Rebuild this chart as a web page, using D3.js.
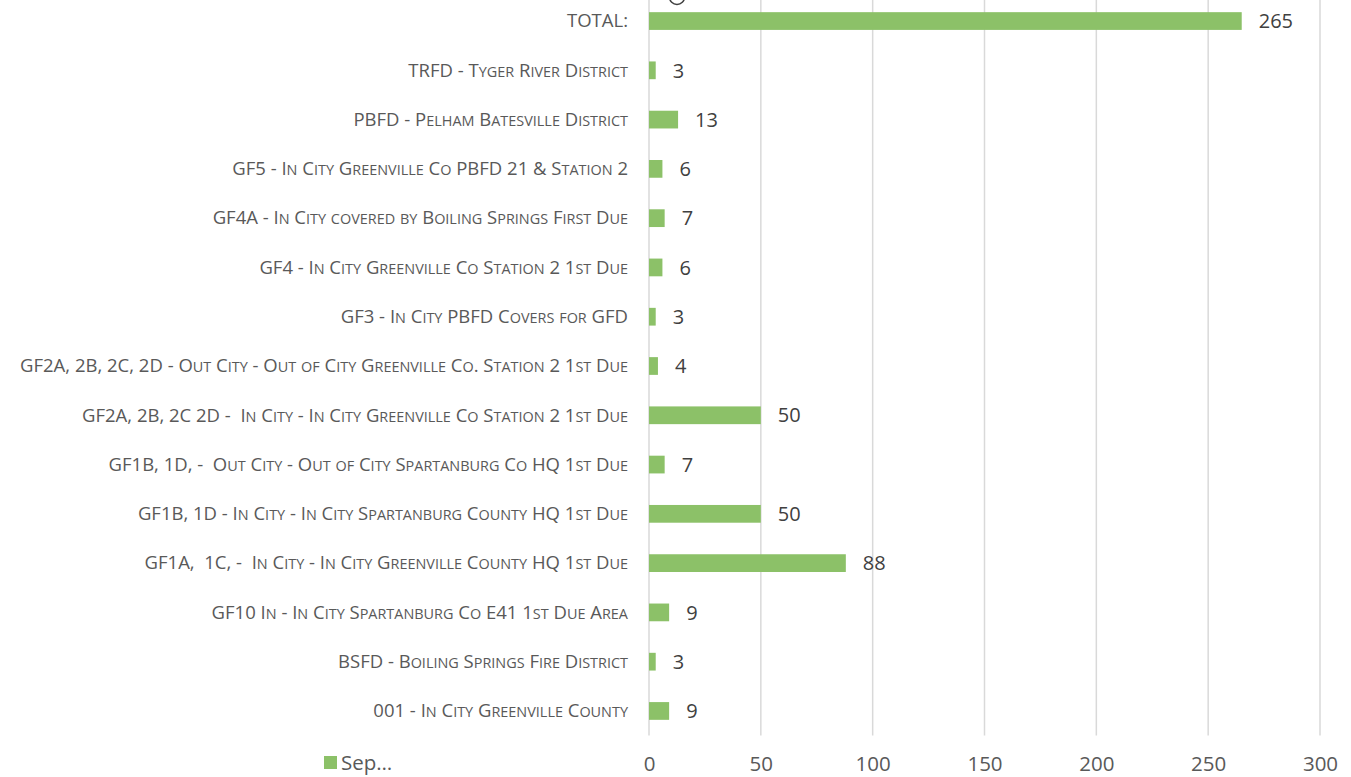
<!DOCTYPE html>
<html>
<head>
<meta charset="utf-8">
<script src="https://cdn.jsdelivr.net/npm/d3@7"></script>
<style>
  body { margin: 0; background: #fff; }
  svg { display: block; }
  .lbl { white-space: pre; }
</style>
</head>
<body>
<div class="chart"></div>
<script>
// categories, top to bottom
const categories = [
  "TOTAL:",
  "TRFD - Tyger River District",
  "PBFD - Pelham Batesville District",
  "GF5 - In City Greenville Co PBFD 21 & Station 2",
  "GF4A - In City covered by Boiling Springs First Due",
  "GF4 - In City Greenville Co Station 2 1st Due",
  "GF3 - In City PBFD Covers for GFD",
  "GF2A, 2B, 2C, 2D - Out City - Out of City Greenville Co. Station 2 1st Due",
  "GF2A, 2B, 2C 2D -  In City - In City Greenville Co Station 2 1st Due",
  "GF1B, 1D, -  Out City - Out of City Spartanburg Co HQ 1st Due",
  "GF1B, 1D - In City - In City Spartanburg County HQ 1st Due",
  "GF1A,  1C, -  In City - In City Greenville County HQ 1st Due",
  "GF10 In - In City Spartanburg Co E41 1st Due Area",
  "BSFD - Boiling Springs Fire District",
  "001 - In City Greenville County"
];
const values = [265, 3, 13, 6, 7, 6, 3, 4, 50, 7, 50, 88, 9, 3, 9];
const xTicks = [0, 50, 100, 150, 200, 250, 300];
const seriesName = "Sep…";

const W = 1351, H = 777;
const plot = { left: 649, right: 1320, top: -3.6, bottom: 735.6 };
const green = "#8cc168";
const labelSize = 18.5, smallRatio = 0.78;

const svg = d3.select(".chart").append("svg")
  .attr("width", W).attr("height", H)
  .style("font-family", "'Open Sans', sans-serif");

const x = d3.scaleLinear().domain([0, 300]).range([plot.left, plot.right]);
const y = d3.scaleBand().domain(categories).range([plot.top, plot.bottom]).paddingInner(0.64).paddingOuter(0.32);

// gridlines
svg.append("g").selectAll("line")
  .data(xTicks)
  .join("line")
  .attr("x1", d => x(d)).attr("x2", d => x(d))
  .attr("y1", 0).attr("y2", plot.bottom)
  .attr("stroke", "#d9d9d9").attr("stroke-width", 1.5);

// x axis labels
const xAxis = d3.axisBottom(x).tickValues(xTicks).tickSize(0).tickPadding(0);
const gx = svg.append("g").attr("transform", `translate(0,${plot.bottom + 28})`).call(xAxis);
gx.select(".domain").remove();
gx.selectAll("text")
  .attr("dy", "0.36em")
  .attr("fill", "#595959")
  .style("font-size", "20.5px")
  .style("font-family", "'Open Sans', sans-serif");

// bars
svg.append("g").selectAll("rect")
  .data(values)
  .join("rect")
  .attr("x", x(0))
  .attr("y", (d, i) => y(categories[i]))
  .attr("width", d => x(d) - x(0))
  .attr("height", y.bandwidth())
  .attr("fill", green);

// value labels
svg.append("g").selectAll("text")
  .data(values)
  .join("text")
  .attr("x", d => x(d) + 17)
  .attr("y", (d, i) => y(categories[i]) + y.bandwidth() / 2)
  .attr("dy", "0.36em")
  .attr("fill", "#404040")
  .style("font-size", "20px")
  .text(d => d);

// category labels (small caps built by hand: lowercase -> smaller capitals)
function smallCapRuns(s) {
  const runs = [];
  for (const ch of s) {
    const small = ch !== ch.toUpperCase();
    const last = runs[runs.length - 1];
    if (last && last.small === small) last.t += ch;
    else runs.push({ t: ch, small: small });
  }
  return runs;
}
const yAxis = d3.axisLeft(y).tickSize(0).tickPadding(0);
const gy = svg.append("g").attr("transform", `translate(${plot.left - 21},0)`).call(yAxis);
gy.select(".domain").remove();
gy.selectAll("text")
  .attr("class", "lbl")
  .attr("dy", "0.34em")
  .attr("fill", "#595959")
  .style("font-size", labelSize + "px")
  .style("font-family", "'Open Sans', sans-serif")
  .each(function (d) {
    const t = d3.select(this).text(null);
    smallCapRuns(d).forEach(r => {
      t.append("tspan")
        .style("font-size", (r.small ? labelSize * smallRatio : labelSize) + "px")
        .text(r.small ? r.t.toUpperCase() : r.t);
    });
  });

// partial title glyph cut at the top edge
svg.append("circle")
  .attr("cx", 677).attr("cy", -3).attr("r", 7.5)
  .attr("fill", "none").attr("stroke", "#404040").attr("stroke-width", 1.6);

// legend
const lg = svg.append("g").attr("transform", "translate(324,756)");
lg.append("rect").attr("width", 13).attr("height", 13).attr("fill", green);
lg.append("text").attr("x", 17).attr("y", 7).attr("dy", "0.36em")
  .attr("fill", "#595959").style("font-size", "20.5px").text(seriesName);
</script>
</body>
</html>
